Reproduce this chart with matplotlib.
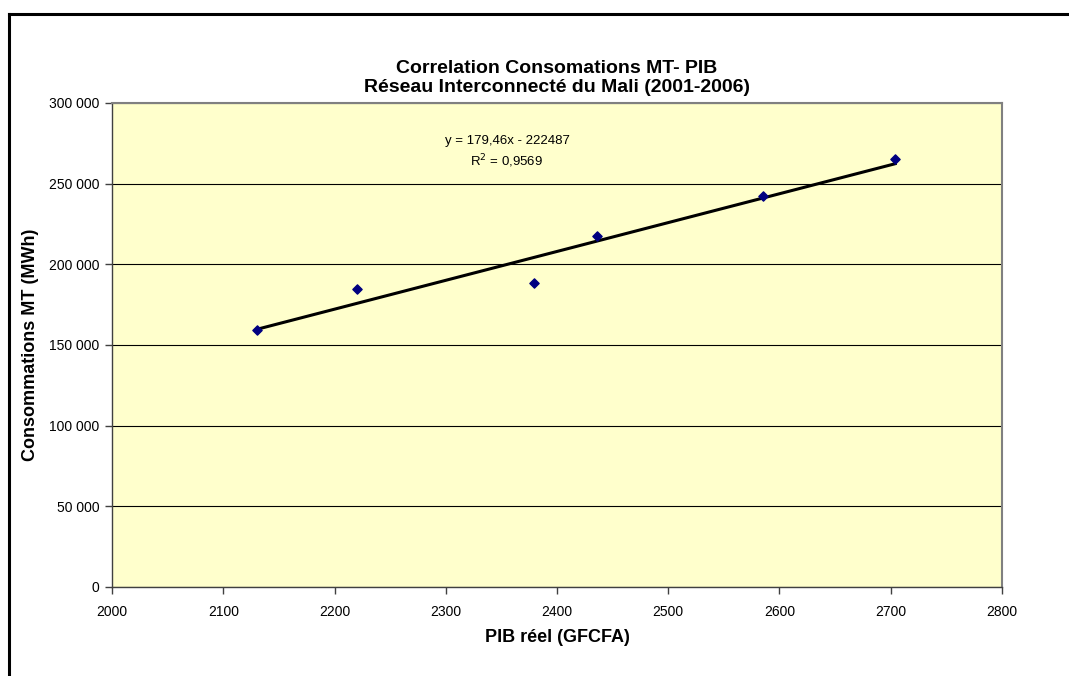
import matplotlib.pyplot as plt
import numpy as np
from matplotlib.lines import Line2D
from matplotlib.ticker import FuncFormatter

plt.rcParams['font.family'] = ['Liberation Sans', 'DejaVu Sans']

# PIB réel (GFCFA) vs consommations MT (MWh), 2001-2006
pib = [2130, 2220, 2379, 2436, 2585, 2704]
conso = [159300, 184700, 188500, 217500, 242300, 265100]

equation_text = "y = 179,46x - 222487"
r2_text = "R$^2$ = 0,9569"

fig = plt.figure(figsize=(10.69, 6.76), dpi=100)
ax = fig.add_axes([0.1048, 0.1317, 0.8325, 0.7160])
ax.set_facecolor('#ffffcc')

# horizontal gridlines
ax.yaxis.grid(True, color='black', linewidth=0.8)
ax.set_axisbelow(True)

ax.scatter(pib, conso, marker='D', s=22, color='#000080', zorder=3)

# linear trend line
coef = np.polyfit(pib, conso, 1)
xs = np.array([min(pib), max(pib)])
ax.plot(xs, np.polyval(coef, xs), color='black', linewidth=2.2, zorder=2)

ax.set_xlim(2000, 2800)
ax.set_ylim(0, 300000)
ax.set_xticks(range(2000, 2801, 100))
ax.set_yticks(range(0, 300001, 50000))
ax.yaxis.set_major_formatter(FuncFormatter(lambda v, p: f"{int(v):,}".replace(",", " ")))

for s in ax.spines.values():
    s.set_color('#808080')
    s.set_linewidth(1.5)
ax.spines['left'].set_color('#404040')
ax.spines['left'].set_linewidth(1)
ax.spines['bottom'].set_color('#404040')
ax.spines['bottom'].set_linewidth(1)
ax.tick_params(axis='both', direction='out', length=5, width=1, color='#404040',
               labelsize=10, pad=4)
ax.tick_params(axis='x', pad=8)

ax.set_xlabel("PIB réel (GFCFA)", fontsize=13, fontweight='bold', labelpad=7)
ax.set_ylabel("Consommations MT (MWh)", fontsize=13, fontweight='bold', labelpad=7)

ax.set_title("Correlation Consomations MT- PIB\nRéseau Interconnecté du Mali (2001-2006)",
             fontsize=14, fontweight='bold', pad=8, linespacing=1.15)

ax.text(2355, 276500, equation_text, ha='center', va='center', fontsize=9.5)
ax.text(2355, 264000, r2_text, ha='center', va='center', fontsize=9.5)

# chart frame (left and top edges visible)
fig.add_artist(Line2D([9 / 1069, 9 / 1069], [0, 1 - 14 / 676], color='black', linewidth=2.2))
fig.add_artist(Line2D([9 / 1069, 1], [1 - 14 / 676, 1 - 14 / 676], color='black', linewidth=2.2))

fig.savefig("out.png", dpi=100)
